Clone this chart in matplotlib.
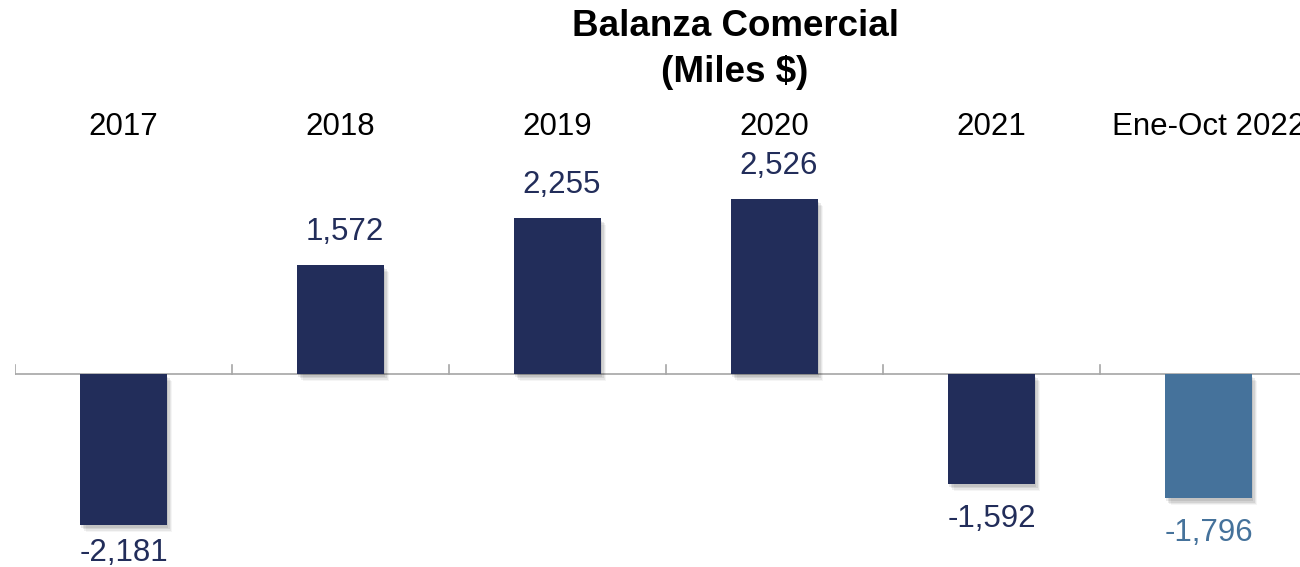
import matplotlib
matplotlib.use("Agg")
import matplotlib.pyplot as plt
import matplotlib.patheffects as pe

categories = ["2017", "2018", "2019", "2020", "2021", "Ene-Oct 2022"]
values = [-2181, 1572, 2255, 2526, -1592, -1796]
labels = ["-2,181", "1,572", "2,255", "2,526", "-1,592", "-1,796"]

DARK = "#222d5a"
LIGHT = "#45729b"
colors = [DARK, DARK, DARK, DARK, DARK, LIGHT]

plt.rcParams["font.family"] = ["Liberation Sans", "DejaVu Sans"]

fig = plt.figure(figsize=(13, 5.67), dpi=100)
ax = fig.add_axes([15 / 1300, 0, 1302 / 1300, 1])
YMIN, YMAX = -2785, 5397
ax.set_xlim(-0.5, 5.5)
ax.set_ylim(YMIN, YMAX)
ax.axis("off")

x = list(range(len(categories)))
bars = ax.bar(x, values, width=0.4, color=colors, zorder=3)
shadow = [pe.SimplePatchShadow(offset=(dx, dy), shadow_rgbFace="#000000", alpha=a)
          for dx, dy, a in [(4, -5, 0.04), (3, -4, 0.06), (2, -3, 0.08), (1, -2, 0.08)]]
for b in bars:
    b.set_path_effects(shadow + [pe.Normal()])

# axis line and ticks
ax.axhline(0, color="#a6a6a6", lw=1.2, zorder=2)
for i in range(len(categories) + 1):
    ax.plot([i - 0.5, i - 0.5], [0, 125], color="#a6a6a6", lw=1.2, zorder=2)

# category labels at top
for i, c in enumerate(categories):
    ax.text(i, 3564, c, ha="center", va="center", fontsize=22.5, color="black")

# value labels
for i, (v, l, col) in enumerate(zip(values, labels, colors)):
    if v >= 0:
        ax.text(i + 0.02, v + 260, l, ha="center", va="bottom", fontsize=22.5, color=col)
    else:
        ytop = max(v - 285, -2360)
        ax.text(i, ytop, l, ha="center", va="top", fontsize=22.5, color=col)

fig.text(735 / 1300, 1 - 27 / 567, "Balanza Comercial", ha="center", va="center",
         fontsize=26.5, fontweight="bold")
fig.text(735 / 1300, 1 - 72 / 567, "(Miles $)", ha="center", va="center",
         fontsize=26.5, fontweight="bold")

fig.savefig("out.png", dpi=100)
